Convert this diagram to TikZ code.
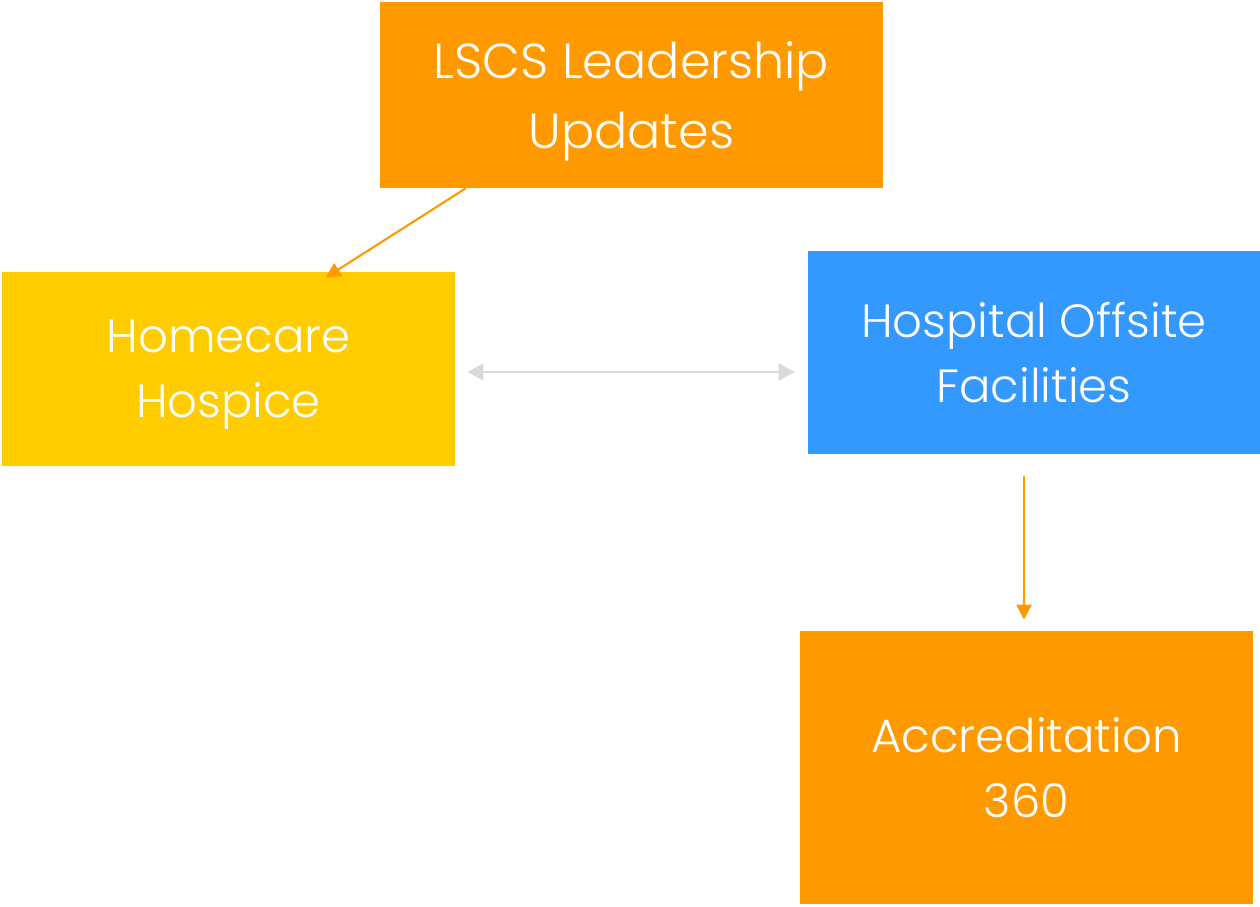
\documentclass[tikz,border=0pt]{standalone}
\usepackage{fontspec}
\setmainfont{Poppins}[UprightFont=* Light]
\usepackage{tikz}
\usetikzlibrary{calc,arrows.meta}
\definecolor{boxorange}{HTML}{FF9900}
\definecolor{boxyellow}{HTML}{FFCC00}
\definecolor{boxblue}{HTML}{3399FF}
\definecolor{linkgray}{HTML}{D9D9D9}
% last line without descender, so the text sits centred like the others
\newcommand{\nodepth}[1]{\raisebox{0pt}[\height][0pt]{#1}}
\tikzstyle{block}=[rectangle, inner sep=0pt, text=white, align=center, font=\fontsize{26.5}{37}\selectfont]
\tikzstyle{flow}=[line width=1.2pt, color=boxorange, -{Triangle[length=0.3cm,width=0.3cm]}]
\tikzstyle{link}=[line width=0.9pt, color=linkgray, {Triangle[length=0.32cm,width=0.34cm]}-{Triangle[length=0.32cm,width=0.34cm]}]

\begin{document}
\begin{tikzpicture}
\useasboundingbox (0,0) rectangle (25.2,-18.12);

\node[block, fill=boxorange, minimum width=10.06cm, minimum height=3.72cm, font=\fontsize{28}{40}\selectfont] (lscs) at (12.63,-1.9) {LSCS Leadership\\\nodepth{Updates}};
\node[block, fill=boxyellow, minimum width=9.06cm, minimum height=3.88cm] (home) at (4.57,-7.38) {Homecare\\\nodepth{Hospice}};
\node[block, fill=boxblue, minimum width=9.04cm, minimum height=4.06cm] (hosp) at (20.68,-7.05) {Hospital Offsite\\Facilities};
\node[block, fill=boxorange, minimum width=9.06cm, minimum height=5.46cm] (accr) at (20.53,-15.35) {Accreditation\\360};

\coordinate (lscsout) at ($(lscs.south west)+(1.72,0)$);
\coordinate (homein) at ($(home.north west)+(6.48,-0.12)$);
\coordinate (homeside) at ($(home.east)+(0.24,-0.06)$);
\coordinate (hospside) at ($(hosp.west)+(-0.26,-0.39)$);
\coordinate (hospout) at ($(hosp.south)+(-0.2,-0.44)$);
\coordinate (accrin) at ($(accr.north)+(-0.05,0.22)$);

\draw[flow] (lscsout)--(homein);
\draw[link] (homeside)--(hospside);
\draw[flow] (hospout)--(accrin);
\end{tikzpicture}
\end{document}
